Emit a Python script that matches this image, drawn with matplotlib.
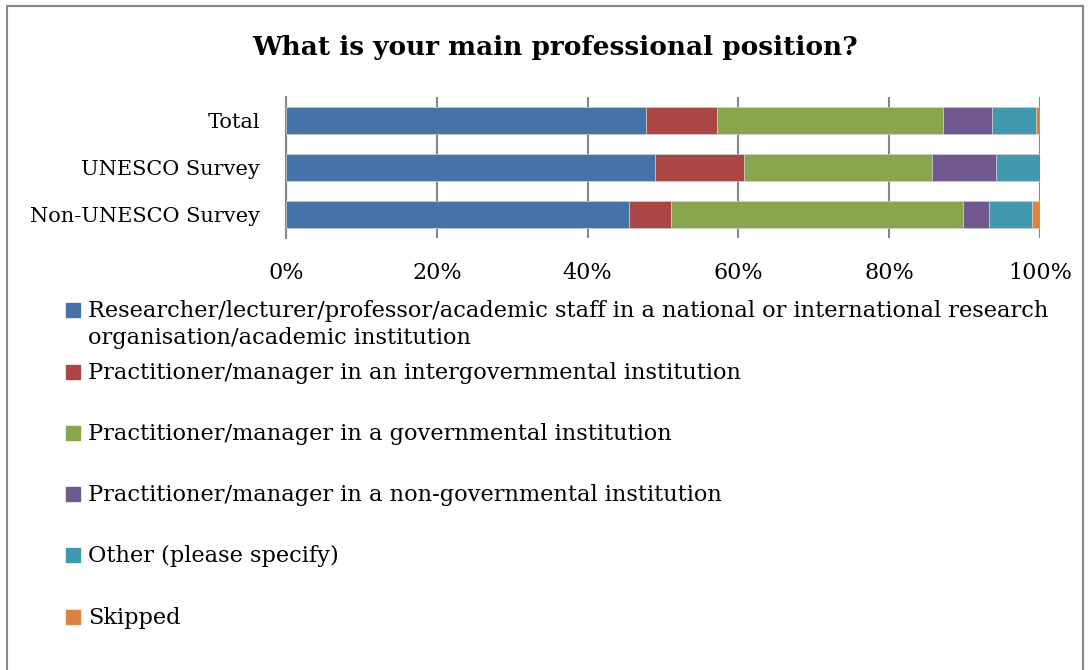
import matplotlib
matplotlib.use("Agg")
import matplotlib.pyplot as plt
from matplotlib.patches import Rectangle

plt.rcParams['font.family'] = ['DejaVu Serif']

# data (percent of respondents)
groups = ['Total', 'UNESCO Survey', 'Non-UNESCO Survey']
positions = [
    'Researcher/lecturer/professor/academic staff in a national or international research\norganisation/academic institution',
    'Practitioner/manager in an intergovernmental institution',
    'Practitioner/manager in a governmental institution',
    'Practitioner/manager in a non-governmental institution',
    'Other (please specify)',
    'Skipped',
]
researcher = [47.7, 49.0, 45.5]
intergov = [9.5, 11.8, 5.6]
governmental = [29.9, 24.9, 38.7]
nongov = [6.6, 8.4, 3.4]
other = [5.8, 5.9, 5.7]
skipped = [0.5, 0.0, 1.1]
series = [researcher, intergov, governmental, nongov, other, skipped]
colors = ['#4572A7', '#AA4643', '#89A54E', '#71588F', '#4198AF', '#DB843D']

W, H = 1091, 670
fig = plt.figure(figsize=(W / 100, H / 100), dpi=100)

# outer chart frame
fig.patches.append(Rectangle((7 / W, -0.1), (1083 - 7) / W, 1.1 - 6 / H,
                             transform=fig.transFigure, fill=False,
                             edgecolor='#868686', linewidth=1.5))

ax = fig.add_axes([286 / W, 1 - 238 / H, (1040 - 286) / W, (238 - 97) / H])
ypos = range(len(groups))
left = [0.0] * len(groups)
for vals, col in zip(series, colors):
    ax.barh(ypos, vals, left=left, height=0.565, color=col,
            edgecolor='#d0d0d0', linewidth=0.5, zorder=3)
    left = [a + b for a, b in zip(left, vals)]

ax.set_xlim(0, 100)
ax.set_ylim(2.5, -0.5)
ax.set_xticks(range(0, 101, 20))
ax.set_xticklabels([f'{v}%' for v in range(0, 101, 20)], fontsize=16)
ax.set_yticks(list(ypos))
ax.set_yticklabels(groups, fontsize=15)
ax.tick_params(axis='both', length=0)
ax.tick_params(axis='x', pad=17.5)
ax.tick_params(axis='y', pad=18.5)
ax.grid(axis='x', color='#868686', linewidth=1.5, zorder=0)
for s in ['top', 'right', 'bottom']:
    ax.spines[s].set_visible(False)
ax.spines['left'].set_color('#868686')
ax.spines['left'].set_linewidth(1.5)

fig.text(555 / W, 1 - 47 / H, 'What is your main professional position?',
         ha='center', va='center', fontsize=19, fontweight='bold')

# legend, one entry per series
leg_y = [310, 372, 433, 494, 555, 617]
for lab, col, y in zip(positions, colors, leg_y):
    fig.patches.append(Rectangle((66 / W, 1 - (y + 7) / H), 14 / W, 14 / H,
                                 transform=fig.transFigure, color=col))
    fig.text(88 / W, 1 - (y - 10) / H, lab, ha='left', va='top',
             fontsize=16.2, linespacing=1.3)

fig.savefig('out.png', dpi=100)
